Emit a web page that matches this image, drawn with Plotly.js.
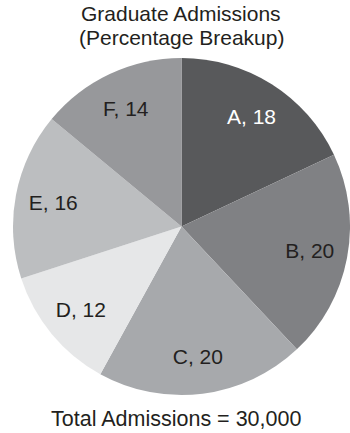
<!DOCTYPE html>
<html>
<head>
<meta charset="utf-8">
<script src="https://cdn.plot.ly/plotly-3.0.1.min.js"></script>
<style>html,body{margin:0;padding:0;background:#fff;}#chart{width:350px;height:433px;}</style>
</head>
<body>
<div id="chart"></div>
<script>
var categories = ["A", "B", "C", "D", "E", "F"];
var percentages = [18, 20, 20, 12, 16, 14];
var sliceColors = ["#58595b", "#808184", "#a7a9ac", "#e6e7e8", "#bcbec0", "#97989b"];
var labelColors = ["#ffffff", "#231f20", "#231f20", "#231f20", "#231f20", "#231f20"];
var titleLines = ["Graduate Admissions", "(Percentage Breakup)"];
var footText = "Total Admissions = 30,000";

var FONT = "Liberation Sans, Arial, sans-serif";

var slices = {
  type: "pie",
  labels: categories,
  values: percentages,
  sort: false,
  direction: "clockwise",
  rotation: 0,
  marker: {colors: sliceColors, line: {width: 0}},
  textinfo: "none",
  hoverinfo: "none",
  showlegend: false
};

var labelsRing = {
  type: "pie",
  labels: categories,
  values: percentages,
  sort: false,
  direction: "clockwise",
  rotation: 0,
  hole: 0.55,
  marker: {colors: categories.map(function(){return "rgba(0,0,0,0)";}), line: {width: 0}},
  texttemplate: "%{label}, %{value}",
  textposition: "inside",
  insidetextorientation: "horizontal",
  insidetextfont: {family: FONT, size: 21, color: labelColors},
  hoverinfo: "none",
  showlegend: false
};

var layout = {
  width: 350,
  height: 433,
  margin: {l: 13, r: 0, t: 58, b: 38},
  paper_bgcolor: "#ffffff",
  plot_bgcolor: "#ffffff",
  annotations: [{
    text: titleLines[0],
    xref: "paper", yref: "paper",
    x: 0.499, y: 1.172,
    xanchor: "center", yanchor: "top",
    showarrow: false,
    font: {family: FONT, size: 21, color: "#231f20"}
  }, {
    text: titleLines[1],
    xref: "paper", yref: "paper",
    x: 0.499, y: 1.101,
    xanchor: "center", yanchor: "top",
    showarrow: false,
    font: {family: FONT, size: 21, color: "#231f20"}
  }, {
    text: footText,
    xref: "paper", yref: "paper",
    x: 0.484, y: -0.113,
    xanchor: "center", yanchor: "bottom",
    showarrow: false,
    font: {family: FONT, size: 21.5, color: "#231f20"}
  }]
};

Plotly.newPlot("chart", [slices, labelsRing], layout, {displayModeBar: false, staticPlot: true});
</script>
</body>
</html>
